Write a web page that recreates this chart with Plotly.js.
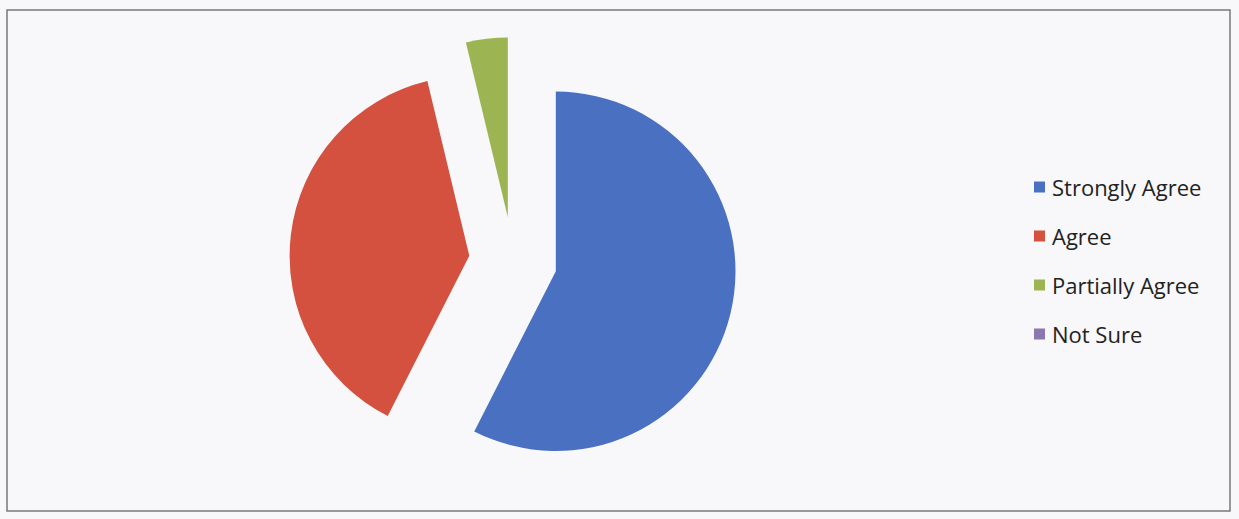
<!DOCTYPE html>
<html>
<head>
<meta charset="utf-8">
<script src="https://cdn.plot.ly/plotly-3.0.1.min.js"></script>
<style>html,body{margin:0;padding:0;background:#f8f7f9;}</style>
</head>
<body>
<div id="chart" style="width:1239px;height:519px;"></div>
<script>
const labels = ["Strongly Agree", "Agree", "Partially Agree", "Not Sure"];
const values = [46, 31, 3, 0];
const colors = ["#4a70c2", "#d4503f", "#9cb552", "#8a78b0"];

const data = [{
  type: "pie",
  labels: labels,
  values: values,
  sort: false,
  direction: "clockwise",
  rotation: 0,
  pull: [0.245, 0.245, 0.245, 0.245],
  textinfo: "none",
  hoverinfo: "label+value+percent",
  marker: { colors: colors, line: { width: 0 } },
  domain: { x: [0.2335, 0.5946], y: [0.0660, 0.9282] },
  showlegend: false
}];

// legend drawn as annotations + squares
const legTop = 187;
const legStep = 49;
const annotations = [];
const shapes = [{
  type: "rect", xref: "paper", yref: "paper",
  x0: 7 / 1239, x1: 1230 / 1239, y0: 1 - 511 / 519, y1: 1 - 10 / 519,
  line: { color: "#7a7a7a", width: 1.5 }, fillcolor: "rgba(0,0,0,0)"
}];
labels.forEach((lab, i) => {
  const yc = legTop + i * legStep;
  shapes.push({
    type: "rect", xref: "paper", yref: "paper",
    x0: 1034 / 1239, x1: 1045 / 1239,
    y0: 1 - (yc + 5.5) / 519, y1: 1 - (yc - 5.5) / 519,
    line: { width: 0 }, fillcolor: colors[i]
  });
  annotations.push({
    xref: "paper", yref: "paper", x: 1050 / 1239, y: 1 - yc / 519,
    xanchor: "left", yanchor: "middle", showarrow: false,
    text: lab, font: { family: "Open Sans", size: 22, color: "#222222" }
  });
});

const layout = {
  width: 1239, height: 519,
  margin: { l: 0, r: 0, t: 0, b: 0 },
  paper_bgcolor: "#f8f7f9",
  plot_bgcolor: "#f8f7f9",
  showlegend: false,
  shapes: shapes,
  annotations: annotations
};

Plotly.newPlot("chart", data, layout, { displayModeBar: false, staticPlot: true });
</script>
</body>
</html>
